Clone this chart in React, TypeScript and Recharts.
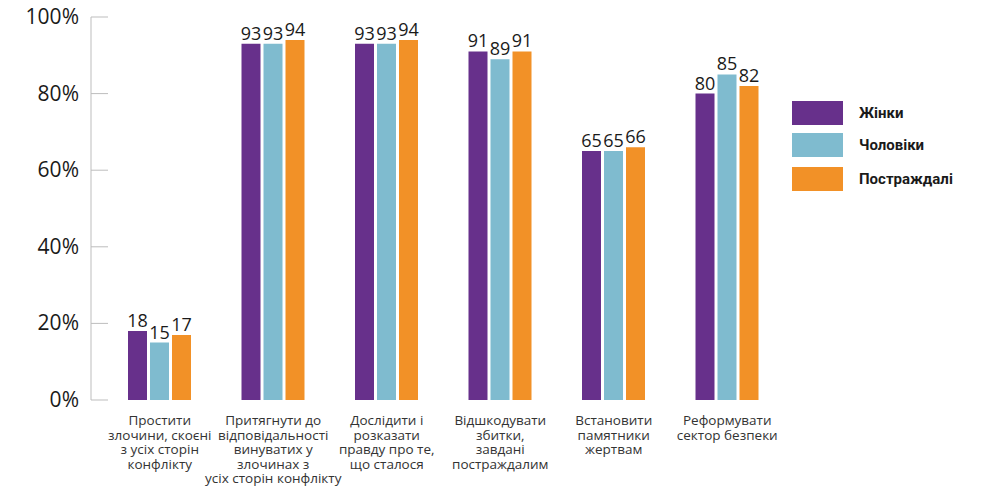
import { BarChart, Bar, XAxis, YAxis, LabelList } from 'recharts';

const categories = [
  ['Простити', 'злочини, скоєні', 'з усіх сторін', 'конфлікту'],
  ['Притягнути до', 'відповідальності', 'винуватих у', 'злочинах з', 'усіх сторін конфлікту'],
  ['Дослідити і', 'розказати', 'правду про те,', 'що сталося'],
  ['Відшкодувати', 'збитки,', 'завдані', 'постраждалим'],
  ['Встановити', 'памятники', 'жертвам'],
  ['Реформувати', 'сектор безпеки'],
]
const women = [18, 93, 93, 91, 65, 80]
const men = [15, 93, 93, 89, 65, 85]
const victims = [17, 94, 94, 91, 66, 82]
const yTicks = [0, 20, 40, 60, 80, 100]

const series = [
  { key: 'women', name: 'Жінки', color: '#67308b' },
  { key: 'men', name: 'Чоловіки', color: '#7fbbcf' },
  { key: 'victims', name: 'Постраждалі', color: '#f29127' },
]

const data = categories.map((c, i) => ({
  name: c.join(' '),
  women: women[i],
  men: men[i],
  victims: victims[i],
}))

const FONT = '"Open Sans", sans-serif'

function YTick(props: any) {
  const { x, y, payload } = props
  return (
    <g>
      <line x1={x + 12} x2={x + 29} y1={y} y2={y} stroke="#bdbdbd" strokeWidth={1} />
      <text x={x} y={y} dy={7} textAnchor="end" fontSize={21} fill="#1a1a1a" fontFamily={FONT}>
        {payload.value}%
      </text>
    </g>
  )
}

function XTick(props: any) {
  const { x, y, index } = props
  const lines = categories[index] || []
  return (
    <text x={x} y={y + 25} textAnchor="middle" fontSize={13.5} fill="#333" fontFamily={FONT}>
      {lines.map((l, i) => (
        <tspan key={i} x={x} dy={i === 0 ? 0 : 14.5}>{l}</tspan>
      ))}
    </text>
  )
}

function LegendBox() {
  return (
    <div style={{ position: 'absolute', left: 784, top: 93, display: 'flex', flexDirection: 'column' }}>
      {series.map((s, i) => (
        <div key={s.key} style={{ display: 'flex', alignItems: 'center', height: 24, marginTop: i === 0 ? 0 : i === 1 ? 8 : 10 }}>
          <div style={{ width: 51, height: 24, background: s.color }} />
          <span style={{ marginLeft: 16, fontFamily: 'Roboto, sans-serif', fontWeight: 700, fontSize: 15, color: '#1a1a1a' }}>
            {s.name}
          </span>
        </div>
      ))}
    </div>
  )
}

export default function App() {
  return (
    <div style={{ position: 'relative', width: 976, height: 478 }}>
      <BarChart
        width={976}
        height={478}
        data={data}
        margin={{ top: 9, right: 200, bottom: 0, left: 0 }}
        barSize={19}
        barGap={3}
      >
        <XAxis
          dataKey="name"
          tick={<XTick />}
          tickLine={false}
          axisLine={false}
          interval={0}
          tickSize={0}
          tickMargin={0}
          height={86}
          padding={{ left: 12, right: 0 }}
        />
        <YAxis
          domain={[0, 100]}
          ticks={yTicks}
          tick={<YTick />}
          tickLine={false}
          tickSize={0}
          tickMargin={12}
          width={83}
          axisLine={{ stroke: '#bdbdbd' }}
        />
        {series.map((s) => (
          <Bar key={s.key} dataKey={s.key} name={s.name} fill={s.color} isAnimationActive={false}>
            <LabelList dataKey={s.key} position="top" offset={4} fontSize={18} fill="#1a1a1a" fontFamily={FONT} />
          </Bar>
        ))}
      </BarChart>
      <LegendBox />
    </div>
  )
}
